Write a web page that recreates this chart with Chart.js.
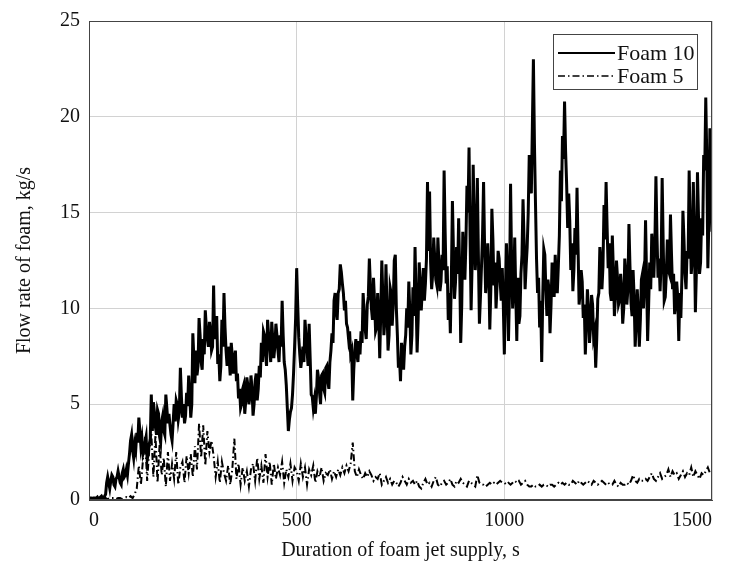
<!DOCTYPE html>
<html>
<head>
<meta charset="utf-8">
<title>Flow rate of foam</title>
<script src="https://cdn.jsdelivr.net/npm/chart.js@4.4.0/dist/chart.umd.min.js"></script>
<style>
  html, body { margin: 0; padding: 0; background: #fff; }
</style>
</head>
<body>
<canvas id="foamChart" width="729" height="572"></canvas>
<script>
// logger sampling intervals, s
const foam10Step = 2.5
const foam5Step = 5

const seriesNames = ['Foam 10', 'Foam 5']
const xTicks = [0, 500, 1000, 1500]
const yTicks = [0, 5, 10, 15, 20, 25]

// Foam 10 flow rate, kg/s (one value every foam10Step seconds from t = 0)
const foam10 = [
  0.1, 0.1, 0.1, 0.05, 0.1, 0.1, 0.1, 0.1, 0.15, 0.05, 0.1, 0.15, 0.2, 0.1, 0.1, 0.2, 0.3,
  0.9, 1.2, 0.9, 0.6, 1.0, 1.3, 1.2, 0.8, 0.7, 1.1, 1.2, 1.5, 1.2, 0.9, 0.8, 1.4, 1.6, 1.2, 1.3, 1.6, 1.3, 1.9,
  2.4, 3.1, 3.4, 2.6, 2.2, 2.9, 2.6, 3.5, 3.0, 4.3, 3.6, 2.8, 3.2, 2.4, 2.6, 3.0, 3.3, 2.1, 2.4, 2.9, 3.2, 5.5,
  3.6, 5.1, 4.6, 3.8, 3.4, 4.7, 4.5, 3.3, 3.0, 4.1, 4.4, 3.6, 3.4, 5.5, 4.8, 4.0, 4.5, 3.9, 3.4, 3.1,
  4.0, 5.0, 4.1, 5.2, 5.0, 4.2, 4.6, 6.9, 5.4, 4.3, 5.0, 4.0, 4.4, 5.6, 4.9, 6.5, 5.5, 4.3, 5.0, 8.7,
  7.4, 6.1, 7.8, 6.5, 7.0, 9.5, 8.6, 7.2, 6.8, 8.4, 7.6, 9.9, 9.0, 8.4, 8.0, 9.3, 8.8, 7.8, 8.0, 11.2,
  8.4, 9.1, 9.6, 7.1, 7.6, 6.2, 7.0, 9.4, 8.0, 10.8, 9.0, 7.8, 7.0, 8.0, 7.4, 6.5, 8.2, 7.5, 6.6, 7.3,
  7.8, 6.2, 6.6, 5.3, 5.8, 4.8, 5.0, 5.8, 6.0, 4.5, 5.2, 6.4, 6.0, 5.0, 5.4, 6.5, 5.8, 4.4, 5.0, 6.2,
  6.6, 5.2, 5.8, 7.0, 6.4, 8.2, 7.2, 8.8, 8.6, 7.6, 7.0, 9.4, 8.6, 8.0, 7.2, 9.3, 8.4, 7.4, 8.0, 9.2,
  8.6, 7.8, 7.2, 8.6, 8.0, 10.4, 8.6, 7.2, 6.8, 6.0, 4.8, 3.6, 4.2, 4.6, 4.8, 5.5, 6.6, 8.0, 9.5, 12.1,
  10.2, 8.5, 7.6, 6.9, 7.4, 8.0, 7.2, 9.4, 8.6, 7.8, 7.0, 9.2, 7.4, 5.5, 5.4, 4.8, 5.2, 4.5, 5.4, 6.8,
  6.4, 5.6, 5.0, 6.5, 6.6, 5.8, 5.6, 6.9, 7.0, 6.2, 5.8, 7.2, 7.8, 8.7, 8.2, 10.4, 10.8, 9.8, 9.4, 10.8,
  11.0, 12.3, 11.9, 11.3, 10.8, 9.9, 10.4, 9.2, 9.0, 8.4, 8.8, 7.6, 7.8, 5.2, 6.8, 7.8, 8.4, 7.6, 7.2, 8.3,
  7.6, 8.8, 8.2, 10.8, 9.8, 8.9, 8.4, 10.2, 10.6, 12.6, 11.2, 10.0, 9.4, 11.6, 10.4, 8.8, 9.0, 10.8, 9.6, 7.4,
  9.8, 12.5, 10.6, 8.6, 9.4, 12.3, 10.0, 7.8, 8.6, 11.1, 10.8, 9.1, 10.2, 12.5, 12.8, 10.0, 8.6, 6.9, 7.4, 6.2,
  8.2, 7.4, 6.8, 8.0, 8.6, 10.0, 9.0, 11.4, 9.8, 7.6, 8.6, 11.1, 9.6, 13.2, 10.6, 7.7, 9.4, 12.4, 11.2, 9.9,
  11.0, 12.1, 10.4, 11.3, 12.6, 16.6, 13.0, 16.1, 12.4, 11.0, 11.8, 13.7, 12.6, 11.5, 11.2, 13.7, 12.4, 10.9, 11.4, 12.8,
  12.0, 17.2, 14.0, 11.3, 12.2, 9.4, 10.8, 8.7, 11.6, 15.6, 13.0, 10.5, 11.4, 13.2, 11.8, 14.7, 12.0, 8.2, 10.2, 14.0,
  12.6, 11.5, 13.4, 16.4, 15.0, 18.4, 13.8, 9.9, 12.4, 17.5, 14.6, 12.0, 13.2, 16.8, 12.8, 9.2, 10.6, 12.2, 13.8, 16.6,
  13.2, 10.8, 11.6, 13.4, 12.0, 8.9, 11.0, 15.2, 13.6, 11.2, 12.4, 10.0, 11.2, 13.0, 12.6, 11.4, 10.4, 12.1, 10.2, 7.6,
  10.6, 13.4, 11.8, 8.3, 11.0, 16.5, 12.4, 10.0, 11.0, 13.7, 10.8, 8.3, 11.6, 9.2, 9.6, 11.8, 12.8, 15.7, 13.6, 11.0,
  12.2, 13.2, 15.0, 18.0, 17.2, 16.0, 19.5, 23.0, 18.6, 15.5, 12.6, 10.8, 11.6, 9.0, 10.4, 7.2, 10.6, 13.1, 12.8, 11.0,
  9.6, 11.5, 11.0, 8.7, 10.2, 12.4, 11.8, 10.6, 12.8, 11.5, 10.8, 12.2, 13.8, 17.2, 15.6, 19.0, 17.8, 20.8, 18.2, 16.5,
  14.2, 16.0, 14.6, 12.0, 13.4, 10.9, 12.0, 14.2, 12.8, 16.3, 13.2, 10.2, 10.8, 12.0, 11.4, 9.5, 10.2, 7.6, 9.2, 11.0,
  10.0, 8.2, 9.0, 10.7, 10.2, 8.5, 8.8, 6.9, 8.4, 10.5, 10.8, 13.2, 12.4, 11.0, 12.2, 15.4, 13.6, 16.6, 14.2, 12.1,
  13.4, 10.8, 10.4, 13.8, 12.0, 9.6, 10.6, 12.5, 11.6, 10.2, 10.4, 11.8, 11.0, 9.2, 10.0, 12.6, 11.8, 10.2, 11.0, 14.4,
  12.2, 10.3, 9.6, 12.0, 10.6, 8.0, 9.2, 11.0, 9.8, 8.0, 9.4, 11.5, 11.8, 10.0, 11.4, 14.6, 11.6, 8.3, 10.2, 12.4,
  11.0, 13.9, 12.8, 11.6, 13.4, 16.9, 13.8, 11.6, 12.6, 10.9, 12.4, 16.8, 13.4, 10.4, 10.6, 11.8, 13.6, 12.0, 11.8, 14.9,
  12.8, 11.0, 11.8, 9.7, 10.2, 11.4, 10.6, 8.3, 10.8, 9.5, 11.6, 15.1, 13.6, 11.8, 11.0, 13.0, 12.6, 17.2, 14.4, 11.8,
  12.6, 16.6, 13.8, 9.8, 12.0, 17.1, 14.8, 11.8, 12.4, 14.7, 13.8, 18.0, 17.2, 21.0, 17.8, 12.1, 14.6, 19.4, 17.0, 14.0
]

// Foam 5 flow rate, kg/s (one value every foam5Step seconds from t = 0)
const foam5 = [
  0.05, 0.05, 0.1, 0.05, 0.1, 0.1, 0.05, 0.1, 0.1, 0.05, 0.1, 0.1,
  0.1, 0.05, 0.1, 0.1, 0.05, 0.1, 0.15, 0.1, 0.2, 0.1, 0.3, 0.6,
  1.8, 0.8, 2.1, 3.3, 1.0, 2.6, 3.5, 1.2, 3.4, 0.9, 2.9, 1.3, 2.2, 0.7, 2.5, 1.0, 1.9,
  1.1, 2.5, 0.8, 1.7, 2.0, 0.9, 2.3, 1.4, 2.4, 1.2, 2.8, 1.6, 4.0, 2.2, 3.9, 1.8, 3.6, 2.5, 3.1, 2.3,
  1.2, 2.0, 0.9, 2.0, 1.4, 1.0, 1.8, 0.8, 1.6, 3.2, 1.1, 1.9, 0.8, 1.7, 1.0, 1.5, 0.7, 1.6, 1.9, 1.0,
  2.2, 1.1, 1.8, 0.9, 2.4, 1.2, 2.0, 0.8, 1.9, 1.1, 1.7, 1.3, 2.0, 0.9, 1.6, 1.2, 1.9, 1.0, 1.7, 1.5,
  1.0, 1.9, 1.2, 1.7, 0.8, 1.6, 1.3, 1.8, 0.9, 1.5, 1.2, 1.7, 1.0, 1.4, 1.3, 1.6, 1.1, 1.5, 1.2, 1.6,
  1.3, 1.7, 1.4, 1.8, 1.5, 1.9, 3.0, 1.5, 1.2, 1.6, 1.3, 1.1, 1.4, 1.2, 1.5, 1.3, 1.0, 1.2, 1.1, 1.4,
  0.8, 1.0, 1.2, 0.9, 1.1, 0.8, 1.0, 0.9, 0.7, 0.9, 1.2, 1.0, 0.8, 1.1, 0.9, 1.0, 0.8, 1.0, 0.7, 0.6,
  0.9, 1.1, 0.8, 0.9, 0.7, 1.0, 1.2, 0.8, 0.7, 0.9, 1.0, 0.8, 0.9, 1.1, 0.8, 0.7, 1.0, 0.9, 1.1, 0.9,
  0.8, 0.7, 1.0, 0.9, 0.8, 0.7, 1.3, 0.9, 0.8, 0.8, 0.7, 0.8, 0.9, 0.8, 0.9, 0.8, 0.9, 1.0, 0.9, 0.9,
  0.8, 0.9, 0.8, 0.9, 1.0, 0.9, 1.0, 0.8, 0.9, 1.0, 0.8, 0.7, 0.7, 0.8, 0.7, 0.7, 0.8, 0.7, 0.8, 0.8,
  0.7, 0.8, 0.8, 0.7, 0.8, 0.9, 0.8, 0.9, 0.8, 0.9, 0.8, 0.8, 1.0, 0.9, 0.8, 1.0, 0.9, 0.8, 0.9, 1.0,
  0.9, 0.8, 1.0, 0.9, 0.8, 0.9, 1.0, 0.9, 0.8, 0.9, 0.8, 0.8, 1.0, 0.8, 0.7, 0.9, 0.8, 0.8, 0.9, 0.8,
  1.0, 1.3, 1.0, 0.9, 1.1, 1.0, 1.0, 1.1, 1.0, 1.2, 1.4, 1.1, 1.0, 1.2, 1.4, 1.1, 1.2, 1.3, 1.6, 1.2,
  1.5, 1.3, 1.4, 1.1, 1.3, 1.5, 1.2, 1.4, 1.3, 1.7, 1.2, 1.5, 1.3, 1.1, 1.4, 1.3, 1.5, 1.7, 1.4, 1.5
]

// pair each reading with its time stamp
const toPoints = (values, step) => values.map((v, i) => ({ x: i * step, y: v }))

const serif = '"Liberation Serif", "Times New Roman", serif'
const inkColor = '#111'

//  Dark box round the plot area
const plotFrame = {
  id: 'plotFrame',
  afterDraw (chart) {
    const { ctx, chartArea: a } = chart
    ctx.save()
    ctx.strokeStyle = '#444'
    ctx.lineWidth = 1
    ctx.strokeRect(Math.round(a.left) + 0.5, Math.round(a.top) + 0.5,
      Math.round(a.right - a.left) - 1, Math.round(a.bottom - a.top) - 1)
    ctx.restore()
  }
}

//  Framed legend in the upper right corner of the plot
const legendBox = {
  id: 'legendBox',
  afterDraw (chart) {
    const { ctx, chartArea: a } = chart
    const w = 144
    const h = 55
    const left = Math.round(a.right - 15 - w)
    const top = Math.round(a.top + 13)
    ctx.save()
    ctx.fillStyle = '#fff'
    ctx.fillRect(left, top, w, h)
    ctx.strokeStyle = '#444'
    ctx.lineWidth = 1
    ctx.strokeRect(left + 0.5, top + 0.5, w, h)
    ctx.font = '22px ' + serif
    ctx.textBaseline = 'middle'
    chart.data.datasets.forEach((ds, i) => {
      const y = top + 19 + i * 23
      ctx.strokeStyle = '#000'
      ctx.lineWidth = i === 0 ? 2 : 1.3
      ctx.setLineDash(ds.borderDash || [])
      ctx.beginPath()
      ctx.moveTo(left + 5, y)
      ctx.lineTo(left + 62, y)
      ctx.stroke()
      ctx.setLineDash([])
      ctx.fillStyle = inkColor
      ctx.fillText(ds.label, left + 64, y + 1)
    })
    ctx.restore()
  }
}

const ctx = document.getElementById('foamChart').getContext('2d')
const foamChart = new Chart(ctx, {
  type: 'line',
  data: {
    datasets: [
      {
        label: seriesNames[0],
        data: toPoints(foam10, foam10Step),
        borderColor: '#000',
        borderWidth: 3,
        pointRadius: 0,
        fill: false
      },
      {
        label: seriesNames[1],
        data: toPoints(foam5, foam5Step),
        borderColor: '#000',
        borderWidth: 2,
        borderDash: [7, 3, 1.5, 3],
        pointRadius: 0,
        fill: false
      }
    ]
  },
  options: {
    responsive: false,
    animation: false,
    events: [],
    parsing: false,
    layout: { padding: { top: 19, right: 17, left: 0, bottom: 0 } },
    plugins: {
      legend: { display: false },
      tooltip: { enabled: false }
    },
    scales: {
      x: {
        type: 'linear',
        min: xTicks[0],
        max: xTicks[xTicks.length - 1],
        afterBuildTicks: scale => { scale.ticks = xTicks.map(v => ({ value: v })) },
        afterFit: scale => { scale.height = 72 },
        grid: { color: '#d2d2d2', drawTicks: false },
        border: { color: '#444' },
        ticks: {
          font: { family: serif, size: 20 },
          color: inkColor,
          padding: 9,
          align: 'inner',
          maxRotation: 0,
          callback: v => String(v)
        },
        title: {
          display: true,
          text: 'Duration of foam jet supply, s',
          font: { family: serif, size: 20 },
          color: inkColor,
          padding: { top: 0, bottom: 9 }
        }
      },
      y: {
        type: 'linear',
        min: yTicks[0],
        max: yTicks[yTicks.length - 1],
        afterBuildTicks: scale => { scale.ticks = yTicks.map(v => ({ value: v })) },
        afterFit: scale => { scale.width = 89 },
        grid: { color: '#d2d2d2', drawTicks: false },
        border: { color: '#444' },
        ticks: {
          font: { family: serif, size: 20 },
          color: inkColor,
          padding: 9,
          callback: v => String(v)
        },
        title: {
          display: true,
          text: 'Flow rate of foam, kg/s',
          font: { family: serif, size: 20 },
          color: inkColor,
          padding: { top: 13, bottom: 0 }
        }
      }
    }
  },
  plugins: [plotFrame, legendBox]
})
</script>
</body>
</html>
